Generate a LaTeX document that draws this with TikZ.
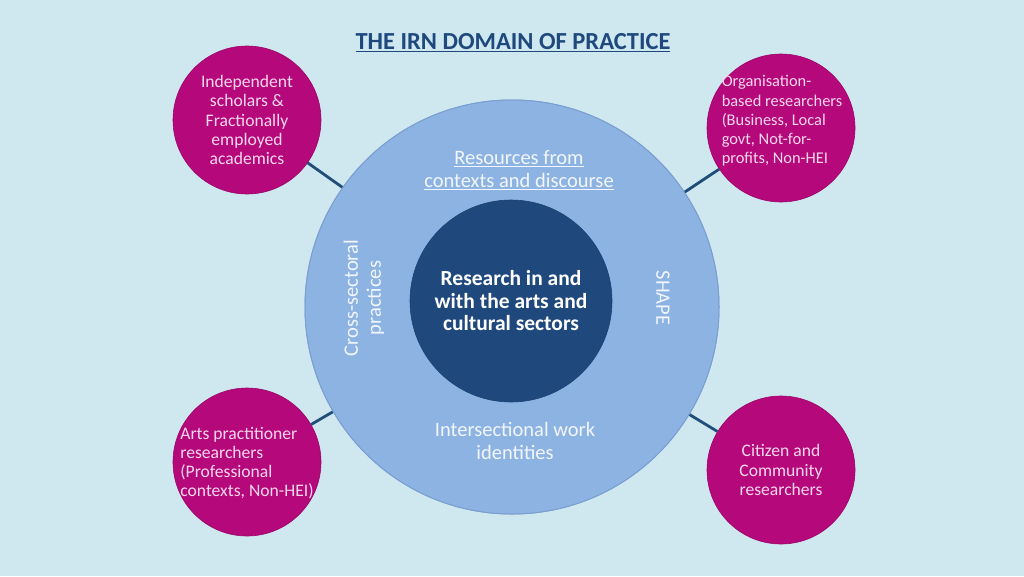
\documentclass[tikz,border=0pt]{standalone}
\usepackage{fontspec}
\setmainfont{Carlito}
\begin{document}
\begin{tikzpicture}[x=1pt,y=-1pt,
  outer/.style={circle, fill=midblue, draw=rimblue, line width=1pt, minimum size=414pt, inner sep=0pt},
  inner/.style={circle, fill=darkblue, draw=darkblue!90!black, line width=0.6pt, minimum size=202pt, inner sep=0pt, text=white, font=\bfseries\fontsize{21.5}{22.5}\selectfont, align=center},
  group/.style={circle, fill=magentac, draw=magentac!85!black, line width=0.6pt, minimum size=148pt, inner sep=0pt, text=pinktext, font=\fontsize{17.6}{19.2}\selectfont, align=center},
  grouptext/.style={text=pinktext, font=\fontsize{17.6}{19.2}\selectfont, inner sep=0pt},
  ringtext/.style={text=ringtxt, font=\fontsize{20.5}{23}\selectfont, align=center},
  link/.style={draw=linkblue, line width=2.8pt}
]
\definecolor{bgblue}{HTML}{CFE8F0}
\definecolor{midblue}{HTML}{8DB3E2}
\definecolor{rimblue}{HTML}{7A9FD0}
\definecolor{darkblue}{HTML}{1F497D}
\definecolor{magentac}{HTML}{B5087A}
\definecolor{pinktext}{HTML}{F6D8EC}
\definecolor{ringtxt}{HTML}{F2F6FC}
\definecolor{linkblue}{HTML}{1F4E79}
\definecolor{titleblue}{HTML}{1F497D}
\useasboundingbox (0,0) rectangle (1024,576);
\fill[bgblue] (0,0) rectangle (1024,576);

\node[font=\bfseries\fontsize{24.5}{26}\selectfont, text=titleblue] (title) at (513,43) {\underline{THE IRN DOMAIN OF PRACTICE}};

\node[group] (tl) at (247,120) {Independent\\scholars \&\\Fractionally\\employed\\academics};
\node[group] (tr) at (781,128) {};
\node[grouptext, align=left, font=\fontsize{16.4}{19.2}\selectfont] (trt) at (782,121) {Organisation-\\based researchers\\(Business, Local\\govt, Not-for-\\profits, Non-HEI};
\node[group] (bl) at (247,462) {};
\node[grouptext, align=left] (blt) at (247,463) {Arts practitioner\\researchers\\(Professional\\contexts, Non-HEI)};
\node[group] (br) at (781,470) {Citizen and\\Community\\researchers};

\node[outer] (ring) at (512,307) {};

\draw[link] (tl) -- (ring);
\draw[link] (tr) -- (ring);
\draw[link] (bl) -- (ring);
\draw[link] (br) -- (ring);
\node[outer] at (512,307) {};

\node[inner] (core) at (511,301) {Research in and\\with the arts and\\cultural sectors};

\node[ringtext] (res) at (519,170) {\underline{Resources from}\\\underline{contexts and discourse}};
\node[ringtext] (inter) at (515,441) {Intersectional work\\identities};
\node[ringtext, rotate=90] (cross) at (364,298) {Cross-sectoral\\practices};
\node[ringtext, rotate=-90] (shape) at (663,298) {SHAPE};
\end{tikzpicture}
\end{document}
